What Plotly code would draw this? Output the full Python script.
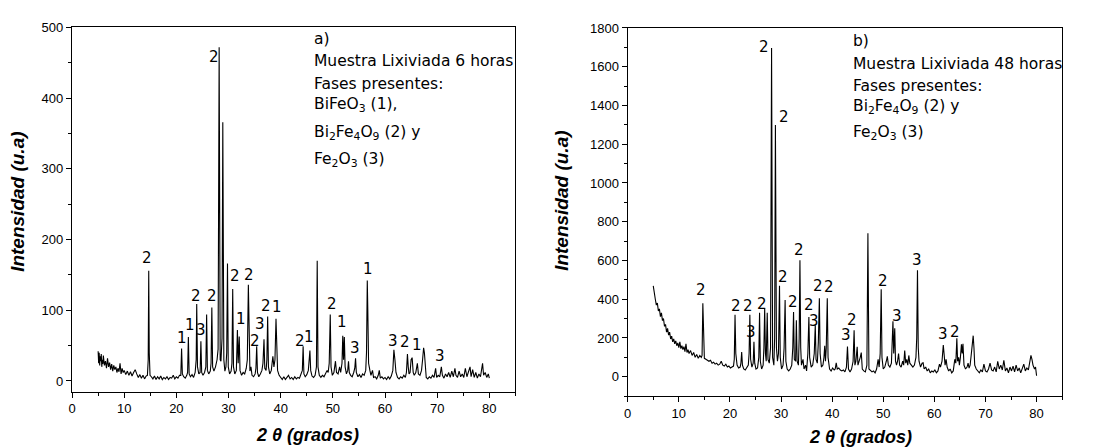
import plotly.graph_objects as go

# ---------------- data: panel a) 6 h leached sample ----------------
two_theta_6h = [
    5.0, 5.1, 5.2, 5.3, 5.4, 5.5, 5.6, 5.7, 5.8, 5.9,
    6.0, 6.2, 6.4, 6.6, 6.8, 7.0, 7.2, 7.4, 7.6, 7.8,
    8.0, 8.2, 8.4, 8.6, 8.8, 9.0, 9.2, 9.4, 9.6, 9.8,
    10.0, 10.3, 10.6, 10.9, 11.2, 11.5, 11.8, 12.1, 12.4, 12.7,
    13.0, 13.3, 13.6, 13.9, 14.2, 14.45, 14.6, 14.7, 14.8, 14.95,
    15.2, 15.5, 15.8, 16.1, 16.4, 16.7, 17.0, 17.3, 17.6, 17.9,
    18.2, 18.5, 18.8, 19.1, 19.4, 19.7, 20.0, 20.3, 20.6, 20.85,
    21.0, 21.15, 21.4, 21.7, 22.0, 22.15, 22.3, 22.45, 22.7, 23.0,
    23.3, 23.6, 23.8, 23.9, 24.05, 24.3, 24.55, 24.7, 24.85, 25.1,
    25.4, 25.65, 25.8, 25.95, 26.2, 26.5, 26.65, 26.8, 26.95, 27.2,
    27.5, 27.8, 28.0, 28.2, 28.4, 28.55, 28.75, 28.9, 29.1, 29.3,
    29.5, 29.65, 29.8, 29.95, 30.2, 30.5, 30.65, 30.8, 30.95, 31.2,
    31.5, 31.7, 31.85, 32.05, 32.2, 32.5, 32.8, 33.1, 33.4, 33.6,
    33.8, 33.95, 34.1, 34.3, 34.5, 34.8, 35.1, 35.25, 35.4, 35.55,
    35.8, 36.1, 36.4, 36.6, 36.8, 36.95, 37.2, 37.35, 37.5, 37.65,
    37.9, 38.2, 38.5, 38.7, 38.9, 39.1, 39.25, 39.4, 39.7, 40.0,
    40.3, 40.6, 40.9, 41.2, 41.5, 41.8, 42.1, 42.4, 42.7, 43.0,
    43.3, 43.6, 43.9, 44.15, 44.3, 44.45, 44.7, 45.0, 45.3, 45.45,
    45.6, 45.75, 46.0, 46.3, 46.6, 46.85, 47.0, 47.15, 47.4, 47.7,
    48.0, 48.3, 48.6, 48.9, 49.1, 49.3, 49.5, 49.65, 49.9, 50.2,
    50.5, 50.7, 51.0, 51.3, 51.5, 51.75, 51.9, 52.05, 52.2, 52.35,
    52.6, 52.85, 53.0, 53.15, 53.4, 53.7, 54.0, 54.2, 54.35, 54.5,
    54.8, 55.1, 55.4, 55.7, 56.0, 56.3, 56.45, 56.6, 56.7, 56.85,
    57.1, 57.3, 57.6, 57.8, 58.1, 58.4, 58.7, 58.9, 59.1, 59.4,
    59.7, 60.0, 60.3, 60.6, 60.9, 61.2, 61.5, 61.7, 61.9, 62.1,
    62.4, 62.7, 63.0, 63.3, 63.6, 63.9, 64.1, 64.3, 64.45, 64.6,
    64.8, 65.0, 65.2, 65.4, 65.6, 65.9, 66.2, 66.4, 66.7, 67.0,
    67.2, 67.4, 67.55, 67.7, 67.9, 68.2, 68.5, 68.8, 69.1, 69.4,
    69.7, 69.9, 70.2, 70.5, 70.8, 71.0, 71.3, 71.6, 71.9, 72.2,
    72.5, 72.8, 73.1, 73.4, 73.6, 73.9, 74.2, 74.5, 74.8, 75.1,
    75.4, 75.7, 76.0, 76.3, 76.5, 76.8, 77.1, 77.4, 77.7, 78.0,
    78.3, 78.7, 78.9, 79.2, 79.5, 79.8, 80.0,
]
intensity_6h = [
    42, 25, 40, 22, 35, 28, 38, 20, 30, 24,
    36, 22, 28, 18, 32, 20, 26, 16, 24, 14,
    22, 16, 20, 12, 18, 13, 25, 10, 18, 12,
    15, 9, 14, 8, 13, 7, 12, 16, 10, 5,
    9, 4, 8, 3, 7, 8, 30, 156, 40, 8,
    6, 3, 7, 2, 6, 3, 7, 2, 5, 3,
    6, 2, 5, 4, 8, 3, 6, 4, 8, 8,
    46, 10, 6, 4, 8, 12, 62, 10, 6, 9,
    5, 12, 30, 109, 20, 10, 12, 56, 12, 8,
    12, 20, 94, 15, 10, 14, 25, 104, 20, 14,
    20, 30, 45, 472, 30, 28, 60, 366, 30, 14,
    20, 40, 166, 20, 10, 14, 25, 130, 20, 10,
    15, 72, 25, 63, 15, 8, 12, 10, 18, 30,
    136, 45, 14, 20, 8, 6, 10, 18, 49, 12,
    6, 10, 15, 25, 59, 18, 15, 30, 91, 20,
    10, 15, 35, 20, 30, 88, 25, 15, 8, 5,
    2, 6, 2, 5, 8, 3, 5, 2, 6, 3,
    5, 4, 10, 15, 49, 10, 6, 9, 15, 25,
    43, 15, 7, 5, 8, 20, 170, 20, 8, 5,
    8, 6, 10, 15, 12, 25, 94, 20, 8, 12,
    28, 12, 10, 20, 12, 25, 64, 30, 62, 20,
    10, 15, 28, 12, 8, 6, 12, 18, 32, 12,
    6, 9, 5, 10, 8, 15, 40, 142, 100, 25,
    15, 8, 15, 5, 6, 3, 8, 15, 4, 6,
    3, 5, 2, 6, 3, 7, 15, 44, 30, 12,
    5, 3, 6, 4, 8, 5, 12, 38, 20, 10,
    12, 30, 33, 12, 8, 12, 25, 10, 8, 15,
    30, 47, 40, 15, 5, 3, 6, 4, 8, 5,
    18, 5, 8, 6, 20, 8, 4, 10, 6, 12,
    5, 14, 6, 18, 8, 5, 14, 6, 10, 5,
    18, 6, 12, 20, 6, 16, 5, 12, 4, 10,
    6, 25, 8, 12, 5, 10, 4,
]
peak_label_x_6h = [14.4, 21.0, 22.6, 24.7, 23.8, 26.8, 27.3, 31.2, 33.9, 32.4, 36.1, 35.0,
                   37.1, 39.2, 43.7, 45.5, 49.8, 51.8, 54.2, 56.7, 61.5, 63.9, 66.1, 70.6]
peak_label_y_6h = [174, 61, 79, 72, 120, 120, 458, 148, 150, 88, 81, 56,
                   106, 104, 56, 62, 109, 83, 47, 158, 56, 55, 51, 35]
peak_label_text_6h = ["2", "1", "1", "3", "2", "2", "2", "2", "2", "1", "3", "2",
                      "2", "1", "2", "1", "2", "1", "3", "1", "3", "2", "1", "3"]
info_lines_6h = ["a)", "Muestra Lixiviada 6 horas", "Fases presentes:",
                 "BiFeO<sub>3</sub> (1),", "Bi<sub>2</sub>Fe<sub>4</sub>O<sub>9</sub> (2) y",
                 "Fe<sub>2</sub>O<sub>3</sub> (3)"]

# ---------------- data: panel b) 48 h leached sample ----------------
two_theta_48h = [
    5.0, 5.2, 5.4, 5.6, 5.8, 6.0, 6.2, 6.4, 6.6, 6.8,
    7.0, 7.2, 7.4, 7.6, 7.8, 8.0, 8.2, 8.4, 8.6, 8.8,
    9.0, 9.2, 9.4, 9.6, 9.8, 10.0, 10.2, 10.4, 10.6, 10.8,
    11.0, 11.2, 11.4, 11.6, 11.8, 12.0, 12.3, 12.6, 12.9, 13.2,
    13.5, 13.8, 14.1, 14.4, 14.55, 14.7, 14.85, 15.0, 15.3, 15.6,
    15.9, 16.2, 16.5, 16.8, 17.1, 17.4, 17.7, 18.0, 18.3, 18.6,
    18.9, 19.2, 19.5, 19.8, 20.1, 20.4, 20.7, 20.85, 21.0, 21.15,
    21.4, 21.7, 22.0, 22.15, 22.3, 22.45, 22.7, 23.0, 23.3, 23.6,
    23.75, 23.9, 24.05, 24.3, 24.55, 24.7, 24.85, 25.1, 25.4, 25.65,
    25.8, 25.95, 26.2, 26.5, 26.65, 26.8, 26.95, 27.1, 27.3, 27.45,
    27.7, 27.95, 28.15, 28.35, 28.6, 28.75, 28.9, 29.1, 29.3, 29.5,
    29.7, 29.85, 30.1, 30.4, 30.6, 30.8, 30.95, 31.2, 31.5, 31.8,
    32.1, 32.3, 32.45, 32.6, 32.85, 33.0, 33.15, 33.4, 33.55, 33.7,
    33.85, 34.0, 34.3, 34.5, 34.8, 35.0, 35.25, 35.45, 35.6, 35.9,
    36.2, 36.5, 36.7, 36.85, 37.1, 37.3, 37.5, 37.65, 37.9, 38.2,
    38.4, 38.55, 38.7, 38.85, 39.05, 39.2, 39.5, 39.8, 40.1, 40.4,
    40.6, 40.8, 41.0, 41.3, 41.6, 41.9, 42.2, 42.5, 42.8, 43.0,
    43.2, 43.5, 43.8, 44.1, 44.3, 44.45, 44.65, 44.9, 45.05, 45.3,
    45.5, 45.7, 45.9, 46.2, 46.5, 46.8, 47.0, 47.2, 47.5, 47.8,
    48.1, 48.4, 48.7, 49.0, 49.2, 49.4, 49.6, 49.75, 50.0, 50.3,
    50.6, 50.8, 51.0, 51.3, 51.6, 51.8, 51.9, 52.05, 52.25, 52.4,
    52.6, 52.8, 53.0, 53.2, 53.5, 53.8, 54.0, 54.2, 54.4, 54.6,
    54.8, 55.0, 55.2, 55.5, 55.8, 56.1, 56.4, 56.55, 56.7, 56.85,
    57.0, 57.3, 57.6, 57.8, 58.0, 58.3, 58.6, 58.9, 59.2, 59.5,
    59.8, 60.1, 60.4, 60.7, 61.0, 61.2, 61.5, 61.75, 61.9, 62.1,
    62.3, 62.5, 62.8, 63.1, 63.4, 63.7, 64.0, 64.2, 64.4, 64.55,
    64.75, 64.9, 65.1, 65.3, 65.45, 65.6, 65.8, 66.1, 66.4, 66.6,
    66.8, 67.0, 67.2, 67.4, 67.6, 67.75, 67.9, 68.2, 68.5, 68.8,
    69.1, 69.4, 69.7, 70.0, 70.3, 70.6, 70.9, 71.2, 71.5, 71.8,
    72.1, 72.4, 72.7, 73.0, 73.3, 73.6, 73.9, 74.2, 74.5, 74.8,
    75.1, 75.4, 75.7, 76.0, 76.3, 76.6, 76.9, 77.2, 77.5, 77.8,
    78.1, 78.4, 78.7, 78.9, 79.1, 79.3, 79.6, 79.8, 80.0,
]
intensity_48h = [
    469, 420, 400, 370, 380, 340, 350, 310, 330, 290,
    300, 260, 270, 230, 250, 215, 230, 195, 210, 180,
    195, 170, 185, 160, 175, 150, 180, 145, 160, 140,
    155, 130, 170, 125, 140, 120, 135, 110, 125, 100,
    115, 95, 110, 100, 110, 379, 120, 95, 90, 85,
    80, 85, 70, 75, 65, 70, 60, 65, 80, 60,
    55, 65, 50, 55, 45, 50, 55, 90, 320, 120,
    60, 45, 50, 70, 127, 60, 40, 35, 45, 60,
    120, 320, 90, 50, 70, 181, 70, 40, 45, 100,
    330, 80, 40, 60, 150, 354, 120, 80, 330, 90,
    70, 150, 1697, 100, 60, 200, 1299, 150, 80, 120,
    469, 100, 40, 60, 150, 396, 80, 40, 30, 40,
    60, 150, 334, 90, 80, 291, 80, 60, 200, 601,
    150, 60, 90, 40, 60, 30, 120, 308, 100, 50,
    60, 120, 266, 90, 70, 180, 405, 120, 50, 60,
    100, 160, 80, 150, 405, 100, 40, 30, 45, 35,
    40, 72, 40, 45, 35, 30, 35, 25, 50, 156,
    40, 25, 40, 80, 240, 60, 80, 155, 60, 80,
    100, 125, 40, 30, 25, 60, 740, 40, 30, 25,
    30, 20, 40, 90, 50, 120, 452, 100, 40, 50,
    80, 105, 60, 50, 70, 200, 286, 120, 250, 80,
    60, 80, 120, 60, 50, 80, 60, 135, 70, 90,
    60, 110, 70, 60, 50, 60, 100, 200, 550, 150,
    80, 50, 70, 72, 40, 50, 30, 40, 20, 30,
    25, 35, 20, 30, 65, 50, 80, 164, 100, 60,
    90, 50, 30, 40, 20, 30, 90, 70, 198, 80,
    100, 60, 100, 168, 120, 170, 60, 40, 50, 70,
    45, 60, 110, 180, 212, 150, 60, 40, 30, 20,
    35, 25, 65, 30, 25, 40, 70, 35, 30, 50,
    25, 80, 40, 60, 35, 85, 30, 45, 20, 50,
    30, 55, 25, 60, 30, 45, 20, 50, 65, 30,
    45, 35, 80, 110, 90, 60, 40, 50, 5,
]
peak_label_x_48h = [14.4, 21.2, 23.6, 24.1, 26.2, 26.7, 30.6, 30.4, 32.3, 33.5, 35.4,
                    36.5, 37.2, 39.3, 42.7, 43.9, 49.9, 52.6, 56.7, 61.6, 64.1]
peak_label_y_48h = [449, 364, 364, 229, 376, 1702, 1341, 516, 388, 655, 372,
                    290, 466, 461, 218, 291, 494, 313, 604, 220, 232]
peak_label_text_48h = ["2", "2", "2", "3", "2", "2", "2", "2", "2", "2", "2",
                       "3", "2", "2", "3", "2", "2", "3", "3", "3", "2"]
info_lines_48h = ["b)", "Muestra Lixiviada 48 horas", "Fases presentes:",
                  "Bi<sub>2</sub>Fe<sub>4</sub>O<sub>9</sub> (2) y",
                  "Fe<sub>2</sub>O<sub>3</sub> (3)"]

x_title = "2 θ (grados)"
y_title = "Intensidad (u.a)"

# ---------------- figure ----------------
W, H = 1094, 448


def px(v):
    return v / W


def py(v):
    return 1 - v / H


fig = go.Figure()
fig.add_trace(go.Scatter(x=two_theta_6h, y=intensity_6h, mode="lines",
                         line=dict(color="black", width=1.1), xaxis="x", yaxis="y",
                         showlegend=False, hoverinfo="skip"))
fig.add_trace(go.Scatter(x=two_theta_48h, y=intensity_48h, mode="lines",
                         line=dict(color="black", width=1.1), xaxis="x2", yaxis="y2",
                         showlegend=False, hoverinfo="skip"))

tick_font = dict(family="Liberation Sans, Arial, sans-serif", size=13, color="black")
axis_common = dict(showline=True, linecolor="black", linewidth=1.3, mirror=True,
                   ticks="outside", ticklen=5, tickwidth=1.2, tickcolor="black",
                   showgrid=False, zeroline=False, tickfont=tick_font)

fig.update_layout(
    width=W, height=H, margin=dict(l=0, r=0, t=0, b=0),
    paper_bgcolor="white", plot_bgcolor="white", showlegend=False,
    xaxis=dict(domain=[px(68.3), px(513.3)], range=[0, 85], tick0=0, dtick=10,
               anchor="y", minor=dict(ticks="outside", ticklen=3, tickwidth=1,
                                      tickcolor="black", dtick=5, showgrid=False),
               **axis_common),
    yaxis=dict(domain=[py(390.7), py(20.7)], range=[-15, 500], tick0=0, dtick=100,
               anchor="x", minor=dict(ticks="outside", ticklen=3, tickwidth=1,
                                      tickcolor="black", dtick=50, showgrid=False),
               **axis_common),
    xaxis2=dict(domain=[px(626), px(1062)], range=[0, 85], tick0=0, dtick=10,
                anchor="y2", minor=dict(ticks="outside", ticklen=3, tickwidth=1,
                                        tickcolor="black", dtick=5, showgrid=False),
                **axis_common),
    yaxis2=dict(domain=[py(395.3), py(21.3)], range=[-100, 1800], tick0=0, dtick=200,
                anchor="x2", minor=dict(ticks="outside", ticklen=3, tickwidth=1,
                                        tickcolor="black", dtick=100, showgrid=False),
                **axis_common),
)

annotations = []
label_font = dict(family="DejaVu Sans, Verdana, sans-serif", size=15, color="black")
info_font = dict(family="DejaVu Sans, Verdana, sans-serif", size=15.5, color="black")
for xv, yv, t in zip(peak_label_x_6h, peak_label_y_6h, peak_label_text_6h):
    annotations.append(dict(x=xv, y=yv, xref="x", yref="y", text=t, showarrow=False,
                            font=label_font, xanchor="center", yanchor="middle"))
for xv, yv, t in zip(peak_label_x_48h, peak_label_y_48h, peak_label_text_48h):
    annotations.append(dict(x=xv, y=yv, xref="x2", yref="y2", text=t, showarrow=False,
                            font=label_font, xanchor="center", yanchor="middle"))

info_y_6h = [33, 55, 78, 100, 128, 155]
for line, yv in zip(info_lines_6h, info_y_6h):
    annotations.append(dict(x=px(309), y=py(yv), xref="paper", yref="paper", text=line,
                            showarrow=False, font=info_font, xanchor="left",
                            yanchor="middle"))
info_y_48h = [35, 58, 80, 102, 128]
for line, yv in zip(info_lines_48h, info_y_48h):
    annotations.append(dict(x=px(850), y=py(yv), xref="paper", yref="paper", text=line,
                            showarrow=False, font=info_font, xanchor="left",
                            yanchor="middle"))

y_title_font = dict(family="Liberation Sans, Arial, sans-serif", size=19, color="black")
x_title_font = dict(family="Liberation Sans, Arial, sans-serif", size=18, color="black")
for xc, yc in [(14, 198), (560, 197)]:
    annotations.append(dict(x=px(xc), y=py(yc), xref="paper", yref="paper",
                            text="<b><i>" + y_title + "</i></b>", textangle=-90,
                            showarrow=False, font=y_title_font, xanchor="center",
                            yanchor="middle"))
for xc, yc in [(305, 435), (860, 437)]:
    annotations.append(dict(x=px(xc), y=py(yc), xref="paper", yref="paper",
                            text="<b><i>" + x_title + "</i></b>",
                            showarrow=False, font=x_title_font, xanchor="center",
                            yanchor="middle"))

fig.update_layout(annotations=annotations)
fig.write_html("out.html", config={"displayModeBar": False},
               post_script="document.body.style.margin='0px';")
